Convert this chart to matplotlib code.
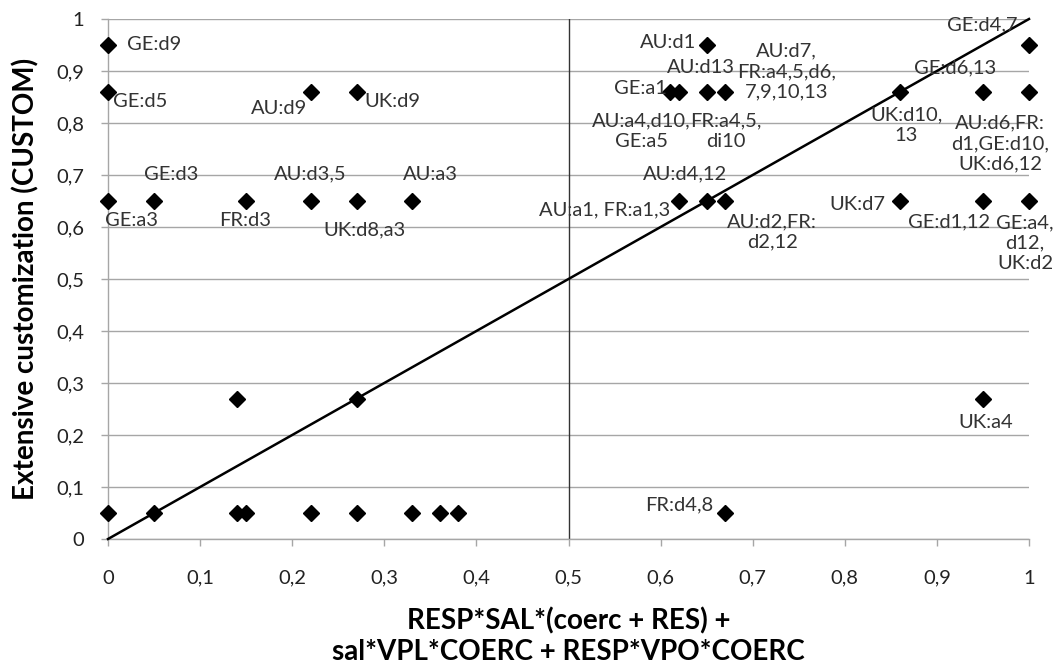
import matplotlib
matplotlib.use("Agg")
import matplotlib.pyplot as plt

# ---------------- data ----------------
x_vals = [0, 0, 0.22, 0.27, 0, 0.05, 0.15, 0.22, 0.27, 0.33,
          0.14, 0.27,
          0, 0.05, 0.14, 0.15, 0.22, 0.27, 0.33, 0.36, 0.38,
          0.67, 0.95,
          0.65, 0.61, 0.62, 0.65, 0.67, 0.86, 0.95, 1.0, 1.0,
          0.62, 0.65, 0.67, 0.86, 0.95, 1.0]
y_vals = [0.95, 0.86, 0.86, 0.86, 0.65, 0.65, 0.65, 0.65, 0.65, 0.65,
          0.27, 0.27,
          0.05, 0.05, 0.05, 0.05, 0.05, 0.05, 0.05, 0.05, 0.05,
          0.05, 0.27,
          0.95, 0.86, 0.86, 0.86, 0.86, 0.86, 0.86, 0.86, 0.95,
          0.65, 0.65, 0.65, 0.65, 0.65, 0.65]
point_labels = ["GE:d9", "GE:d5", "AU:d9", "UK:d9", "GE:a3", "GE:d3", "FR:d3", "AU:d3,5", "UK:d8,a3", "AU:a3",
                "", "",
                "", "", "", "", "", "", "", "", "",
                "FR:d4,8", "UK:a4",
                "AU:d1", "GE:a1", "AU:a4,d10,\nGE:a5", "AU:d13", "AU:d7,\nFR:a4,5,d6,\n7,9,10,13", "UK:d10,\n13",
                "GE:d6,13", "AU:d6,FR:\nd1,GE:d10,\nUK:d6,12", "GE:d4,7",
                "AU:a1, FR:a1,3", "AU:d4,12", "AU:d2,FR:\nd2,12", "UK:d7", "GE:d1,12", "GE:a4,\nd12,\nUK:d2"]
extra_labels = [("FR:a4,5,\ndi10", 0.67, 0.86)]
diag_x = [0, 1]
diag_y = [0, 1]
vline_x = 0.5
tick_vals = [0, 0.1, 0.2, 0.3, 0.4, 0.5, 0.6, 0.7, 0.8, 0.9, 1]
tick_labels = ["0", "0,1", "0,2", "0,3", "0,4", "0,5", "0,6", "0,7", "0,8", "0,9", "1"]
x_title = "RESP*SAL*(coerc + RES) +\nsal*VPL*COERC + RESP*VPO*COERC"
y_title = "Extensive customization (CUSTOM)"

# ---------------- layout (label offsets in pixels: dx right, dy down, ha) ----------------
label_place = {
    "GE:d9": (19, 0, "left"), "GE:d5": (5, 10, "left"), "AU:d9": (-3, 17, "right"),
    "UK:d9": (8, 10, "left"), "GE:a3": (24, 19, "center"), "GE:d3": (17, -27, "center"),
    "FR:d3": (-1, 19, "center"), "AU:d3,5": (0, -27, "center"), "UK:d8,a3": (8, 29, "center"),
    "AU:a3": (19, -27, "center"), "FR:d4,8": (-12, -8, "right"), "UK:a4": (3, 24, "center"),
    "AU:d1": (-10, -2, "right"), "GE:a1": (-3, -3, "right"), "AU:d13": (-6, -24, "center"),
    "AU:d7,\nFR:a4,5,d6,\n7,9,10,13": (12, -20, "left"),
    "AU:a4,d10,\nGE:a5": (-38, 39, "center"), "FR:a4,5,\ndi10": (1, 39, "center"),
    "GE:d4,7": (-11, -20, "right"), "GE:d6,13": (-28, -24, "center"),
    "UK:d10,\n13": (6, 33, "center"), "AU:d6,FR:\nd1,GE:d10,\nUK:d6,12": (-29, 52, "center"),
    "AU:a1, FR:a1,3": (-9, 9, "right"), "AU:d4,12": (-22, -27, "center"),
    "AU:d2,FR:\nd2,12": (47, 31, "center"), "UK:d7": (-15, 4, "right"),
    "GE:d1,12": (-34, 21, "center"), "GE:a4,\nd12,\nUK:d2": (-4, 42, "center"),
}

FONT = "Lato"
plt.rcParams["font.family"] = [FONT, "DejaVu Sans"]

fig = plt.figure(figsize=(10.54, 6.68), dpi=100)
ax = fig.add_axes([108 / 1054, 1 - 539 / 668, (1029 - 108) / 1054, (539 - 19) / 668])

grid_c = "#a6a6a6"
ax.set_xlim(0, 1)
ax.set_ylim(0, 1)
ax.set_yticks(tick_vals)
ax.set_yticklabels(tick_labels)
ax.set_xticks(tick_vals)
ax.set_xticklabels(tick_labels)
ax.yaxis.grid(True, color=grid_c, linewidth=1.0)
ax.set_axisbelow(True)
for s in ["top", "right"]:
    ax.spines[s].set_visible(False)
for s in ["left", "bottom"]:
    ax.spines[s].set_color(grid_c)
    ax.spines[s].set_linewidth(1.0)
ax.tick_params(axis="both", colors=grid_c, length=5, width=1.0, labelcolor="#222222", labelsize=14.5)
ax.tick_params(axis="x", pad=17)
ax.tick_params(axis="y", pad=12)

ax.axvline(vline_x, color="#333333", linewidth=1.0, zorder=2)
ax.plot(diag_x, diag_y, color="black", linewidth=1.8, zorder=3, clip_on=False)
ax.plot(x_vals, y_vals, linestyle="none", marker="D", markersize=8.5, color="black", zorder=4, clip_on=False)

def place(text, x, y):
    dx, dy, ha = label_place[text]
    ax.annotate(text, (x, y), xytext=(dx, -dy), textcoords="offset pixels",
                ha=ha, va="center", multialignment="center", fontsize=14.5,
                color="#333333", zorder=5, annotation_clip=False, linespacing=1.25)

for x, y, t in zip(x_vals, y_vals, point_labels):
    if t:
        place(t, x, y)
for t, x, y in extra_labels:
    place(t, x, y)

ax.set_xlabel(x_title, fontsize=20, fontweight="bold", labelpad=15, linespacing=1.2)
ax.set_ylabel(y_title, fontsize=20, fontweight="bold", labelpad=12)

fig.savefig("out.png", dpi=100)
